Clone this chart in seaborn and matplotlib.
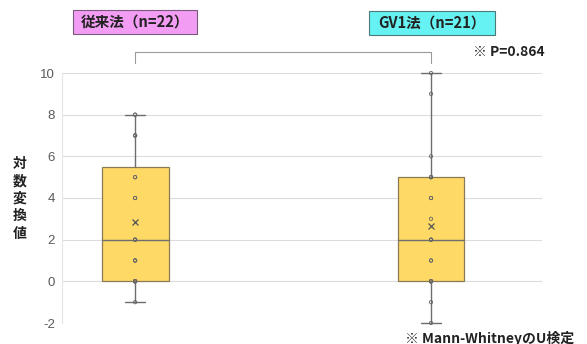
import numpy as np
import pandas as pd
import matplotlib
matplotlib.use("Agg")
import matplotlib as mpl
import matplotlib.pyplot as plt
import matplotlib.cbook as cbook
from matplotlib.patches import Rectangle
import seaborn as sns

# ---- data ----
groups = ["従来法", "GV1法"]
conventional = [-1, 0, 0, 0, 0, 0, 0, 1, 1, 1, 2, 2, 2, 4, 4, 5, 5, 7, 7, 7, 8, 8]
gv1 = [-2, -1, 0, 0, 0, 0, 0, 1, 1, 2, 2, 2, 3, 4, 4, 5, 5, 5, 6, 9, 10]
label_conv = "従来法（n=22）"
label_gv1 = "GV1法（n=21）"
p_text = "※ P=0.864"
test_text = "※ Mann-WhitneyのU検定"
ylabel = "対数変換値"
yticks = [-2, 0, 2, 4, 6, 8, 10]

df = pd.DataFrame({
    "group": [groups[0]] * len(conventional) + [groups[1]] * len(gv1),
    "value": conventional + gv1,
})

# Excel-style (exclusive) quartiles for box statistics
_orig_stats = cbook.boxplot_stats


def _excel_stats(X, whis=1.5, bootstrap=None, labels=None, autorange=False):
    out = _orig_stats(X, whis=whis, bootstrap=bootstrap, labels=labels, autorange=autorange)
    seqs = X if len(out) > 1 or (len(X) > 0 and np.ndim(X[0]) > 0) else [X]
    for st, xs in zip(out, seqs):
        x = np.asarray(xs, dtype=float).ravel()
        q1, med, q3 = np.percentile(x, [25, 50, 75], method="weibull")
        iqr = q3 - q1
        lo = q1 - whis * iqr
        hi = q3 + whis * iqr
        st["q1"], st["med"], st["q3"], st["iqr"] = q1, med, q3, iqr
        st["whislo"] = x[x >= lo].min()
        st["whishi"] = x[x <= hi].max()
        st["fliers"] = x[(x < lo) | (x > hi)]
        st["mean"] = x.mean()
    return out


cbook.boxplot_stats = _excel_stats
mpl.cbook.boxplot_stats = _excel_stats

sns.set_theme(style="white")
plt.rcParams["font.family"] = ["Noto Sans CJK JP", "DejaVu Sans"]

W, H = 587, 344
fig = plt.figure(figsize=(W / 100, H / 100), dpi=100)
ax = fig.add_axes([62 / W, 21 / H, 480 / W, 250 / H])

line_c = "#6e6e6e"
sns.boxplot(data=df, x="group", y="value", order=groups, ax=ax,
            width=0.226, color="#FFD966", saturation=1, linecolor=line_c,
            linewidth=1.0, showmeans=True, capwidths=0.065,
            meanprops=dict(marker="x", markeredgecolor="#555555",
                           markerfacecolor="none", markersize=4.5,
                           markeredgewidth=0.9),
            medianprops=dict(color=line_c, linewidth=1.0),
            showfliers=False)
for p in ax.patches:
    p.set_edgecolor("#8a7a55")
    p.set_linewidth(0.9)
for ln in ax.lines:
    ln.set_clip_on(False)

sns.stripplot(data=df, x="group", y="value", order=groups, ax=ax,
              jitter=False, size=2.4, color="#666666")
for coll in ax.collections:
    coll.set_facecolor("none")
    coll.set_edgecolor("#666666")
    coll.set_linewidth(0.6)
    coll.set_clip_on(False)

ax.set_xlim(-0.247, 1.375)
ax.set_ylim(-2, 10)
ax.set_yticks(yticks)
ax.set_yticklabels([str(t) for t in yticks], fontsize=9.5, color="#595959",
                   family=["Liberation Sans", "DejaVu Sans"])
ax.tick_params(axis="y", length=0, pad=5)
ax.set_xticks([])
ax.set_xlabel("")
ax.set_ylabel("")
for y in yticks:
    ax.axhline(y, color="#dcdcdc", linewidth=0.8, zorder=0)
for s in ["top", "right", "bottom"]:
    ax.spines[s].set_visible(False)
ax.spines["left"].set_color("#e6e6e6")
ax.spines["left"].set_linewidth(0.8)

# bracket
ax.plot([0, 0, 1, 1], [10.48, 11.0, 11.0, 10.48], color="#9a9a9a",
        linewidth=0.8, clip_on=False)


def fx(px):
    return px / W


def fy(py):
    return 1 - py / H


# group label boxes
fig.patches.append(Rectangle((fx(73), fy(34)), 124 / W, 24 / H, transform=fig.transFigure,
                             facecolor="#F39CF3", edgecolor="#7a5a7a", linewidth=0.8))
fig.text(fx(135), fy(22), label_conv, ha="center", va="center", fontsize=10.5,
         fontweight="bold", color="#222222")
fig.patches.append(Rectangle((fx(369), fy(35)), 126 / W, 24 / H, transform=fig.transFigure,
                             facecolor="#66F2F2", edgecolor="#4a7a7a", linewidth=0.8))
fig.text(fx(432), fy(23), label_gv1, ha="center", va="center", fontsize=10.5,
         fontweight="bold", color="#222222")

fig.text(fx(473), fy(52), p_text, ha="left", va="center", fontsize=10,
         fontweight="bold", color="#222222")
fig.text(fx(405), fy(338), test_text, ha="left", va="center", fontsize=10,
         fontweight="bold", color="#222222")

fig.text(fx(20), fy(199), "\n".join(ylabel), ha="center", va="center",
         fontsize=10, fontweight="bold", color="#222222", linespacing=1.3)

fig.savefig("out.png", dpi=100, facecolor="white")
